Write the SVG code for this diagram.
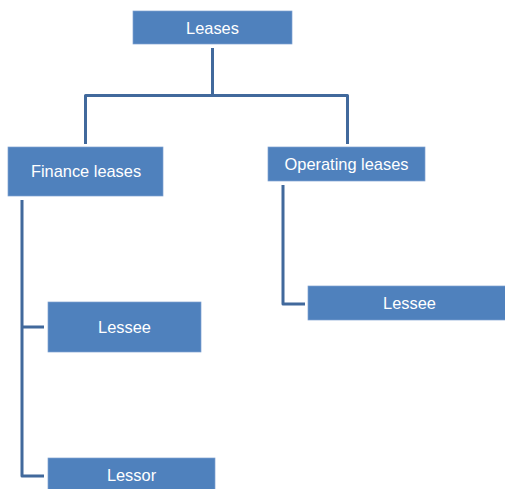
<svg xmlns="http://www.w3.org/2000/svg" width="505" height="489" viewBox="0 0 505 489">
<style>
.box{fill:#4F81BD;stroke:#7FA2D0;stroke-width:0.7}
.t{font-family:"Liberation Sans",Arial,sans-serif;font-size:16.4px;fill:#fff;text-anchor:middle;dominant-baseline:central}
.c{fill:none;stroke:#41699C;stroke-width:3;stroke-linejoin:round}
</style>
<rect width="505" height="489" fill="#fff"/>
<g id="connectors">
<path class="c" d="M212.5 48 V95.5 M85.5 144 V95.5 H347.5 V144"/>
<path class="c" d="M283 185 V304 H305"/>
<path class="c" d="M22 200 V476 H44 M22 327 H44"/>
</g>
<g id="leases"><rect class="box" x="133" y="11" width="159" height="33"/><text class="t" x="212.5" y="27.5">Leases</text></g>
<g id="finance"><rect class="box" x="8" y="147" width="155" height="49"/><text class="t" x="86" y="171">Finance leases</text></g>
<g id="operating"><rect class="box" x="268" y="147" width="157" height="34"/><text class="t" x="346.5" y="164">Operating leases</text></g>
<g id="lessee-op"><rect class="box" x="308" y="286" width="200" height="34"/><text class="t" x="409.5" y="303">Lessee</text></g>
<g id="lessee-fin"><rect class="box" x="48" y="302" width="153" height="50"/><text class="t" x="124.5" y="326.5">Lessee</text></g>
<g id="lessor"><rect class="box" x="48" y="458" width="167" height="34"/><text class="t" x="131.5" y="475">Lessor</text></g>
</svg>
